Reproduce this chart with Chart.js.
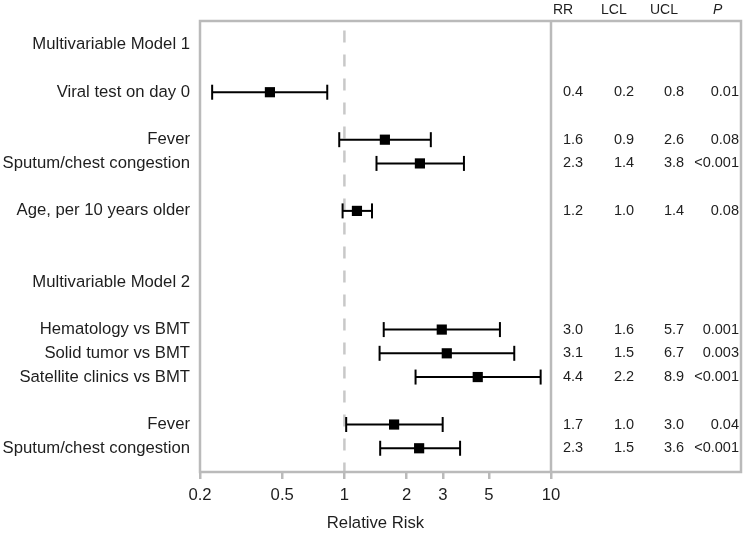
<!DOCTYPE html>
<html>
<head>
<meta charset="utf-8">
<script src="https://cdn.jsdelivr.net/npm/chart.js@4/dist/chart.umd.min.js"></script>
<style>
  body { margin: 0; background: #fff; }
  #wrap { width: 743px; height: 534px; }
</style>
</head>
<body>
<div id="wrap"><canvas id="forest"></canvas></div>
<script>
// row labels, top to bottom (empty strings are spacer rows)
const rowLabels = ['Multivariable Model 1', '', 'Viral test on day 0', '', 'Fever', 'Sputum/chest congestion', '',
    'Age, per 10 years older', '', '', 'Multivariable Model 2', '', 'Hematology vs BMT', 'Solid tumor vs BMT',
    'Satellite clinics vs BMT', '', 'Fever', 'Sputum/chest congestion'];

// which rows carry an estimate
const estRows = [2, 4, 5, 7, 12, 13, 14, 16, 17];
const rr  = [0.436, 1.57, 2.32, 1.15, 2.96, 3.13, 4.42, 1.74, 2.30];
const lcl = [0.229, 0.944, 1.43, 0.98, 1.55, 1.48, 2.21, 1.02, 1.49];
const ucl = [0.826, 2.62, 3.79, 1.36, 5.66, 6.64, 8.91, 2.99, 3.63];

// table text on the right
const rrText  = ['0.4', '1.6', '2.3', '1.2', '3.0', '3.1', '4.4', '1.7', '2.3'];
const lclText = ['0.2', '0.9', '1.4', '1.0', '1.6', '1.5', '2.2', '1.0', '1.5'];
const uclText = ['0.8', '2.6', '3.8', '1.4', '5.7', '6.7', '8.9', '3.0', '3.6'];
const pText   = ['0.01', '0.08', '<0.001', '0.08', '0.001', '0.003', '<0.001', '0.04', '<0.001'];

const xTicks = [0.2, 0.5, 1, 2, 3, 5, 10];

const FONT = 'Liberation Sans, Arial, Helvetica, sans-serif';
const GRAY = '#bababa';
const TEXT = '#1e1e1e';

let datasets = [];
datasets.push({
    label: 'RR',
    data: estRows.map((r, i) => ({x: rr[i], y: r})),
    pointStyle: 'rect',
    pointRadius: 7.2,
    backgroundColor: '#000',
    borderWidth: 0,
    showLine: false
});
estRows.forEach((r, i) => {
    datasets.push({
        label: 'ci' + i,
        data: [{x: lcl[i], y: r}, {x: ucl[i], y: r}],
        showLine: true,
        borderColor: '#000',
        borderWidth: 2,
        pointStyle: 'line',
        pointRotation: 90,
        pointRadius: 7.5,
        pointBorderWidth: 2,
        pointBorderColor: '#000'
    });
});
datasets.push({
    label: 'null',
    data: [{x: 1, y: -0.6}, {x: 1, y: 18}],
    showLine: true,
    borderColor: '#c8c8c8',
    borderWidth: 2.5,
    borderDash: [12, 12],
    pointRadius: 0
});

const boxAndTable = {
    id: 'boxAndTable',
    afterDraw(chart) {
        const ctx = chart.ctx;
        const xs = chart.scales.x, ys = chart.scales.y;
        const a = chart.chartArea;
        const sep = xs.getPixelForValue(10);
        const right = 741;
        ctx.save();
        ctx.strokeStyle = GRAY;
        ctx.lineWidth = 2.5;
        ctx.strokeRect(a.left, a.top, right - a.left, a.bottom - a.top);
        ctx.beginPath();
        ctx.moveTo(sep, a.top);
        ctx.lineTo(sep, a.bottom);
        ctx.stroke();

        // header
        ctx.fillStyle = TEXT;
        ctx.textBaseline = 'middle';
        ctx.textAlign = 'left';
        ctx.font = '14px ' + FONT;
        ctx.fillText('RR', sep + 2, 10);
        ctx.fillText('LCL', sep + 50, 10);
        ctx.fillText('UCL', sep + 99, 10);
        ctx.font = 'italic 14px ' + FONT;
        ctx.fillText('P', sep + 162, 10);

        // rows
        ctx.font = '14.5px ' + FONT;
        estRows.forEach((r, i) => {
            const y = ys.getPixelForValue(r);
            ctx.textAlign = 'left';
            ctx.fillText(rrText[i], sep + 12, y);
            ctx.fillText(lclText[i], sep + 63, y);
            ctx.fillText(uclText[i], sep + 113, y);
            ctx.textAlign = 'right';
            ctx.fillText(pText[i], 739, y);
        });
        ctx.restore();
    }
};

new Chart(document.getElementById('forest'), {
    type: 'scatter',
    data: {datasets: datasets},
    options: {
        responsive: true,
        maintainAspectRatio: false,
        animation: false,
        events: [],
        layout: {padding: {top: 21, right: 192, bottom: 0, left: 0}},
        plugins: {legend: {display: false}, tooltip: {enabled: false}},
        scales: {
            x: {
                type: 'logarithmic',
                min: 0.2,
                max: 10,
                afterBuildTicks: (s) => { s.ticks = xTicks.map(v => ({value: v})); },
                afterFit: (s) => { s.height = 62; },
                border: {display: false},
                grid: {drawOnChartArea: false, drawTicks: true, tickLength: 7, color: GRAY, lineWidth: 2.5},
                ticks: {
                    color: TEXT,
                    font: {family: FONT, size: 16.7},
                    padding: 6,
                    maxRotation: 0,
                    autoSkip: false,
                    callback: (v) => String(v)
                },
                title: {
                    display: true,
                    text: 'Relative Risk',
                    color: TEXT,
                    font: {family: FONT, size: 16.7},
                    padding: {top: 0, bottom: 1}
                }
            },
            y: {
                type: 'linear',
                reverse: true,
                min: -1,
                max: 18,
                afterFit: (s) => { s.width = 200; },
                border: {display: false},
                grid: {display: false, drawTicks: false},
                ticks: {
                    stepSize: 1,
                    autoSkip: false,
                    color: TEXT,
                    font: {family: FONT, size: 16.7},
                    padding: 10,
                    callback: (v) => (v >= 0 && v < rowLabels.length) ? rowLabels[v] : ''
                }
            }
        }
    },
    plugins: [boxAndTable]
});
</script>
</body>
</html>
